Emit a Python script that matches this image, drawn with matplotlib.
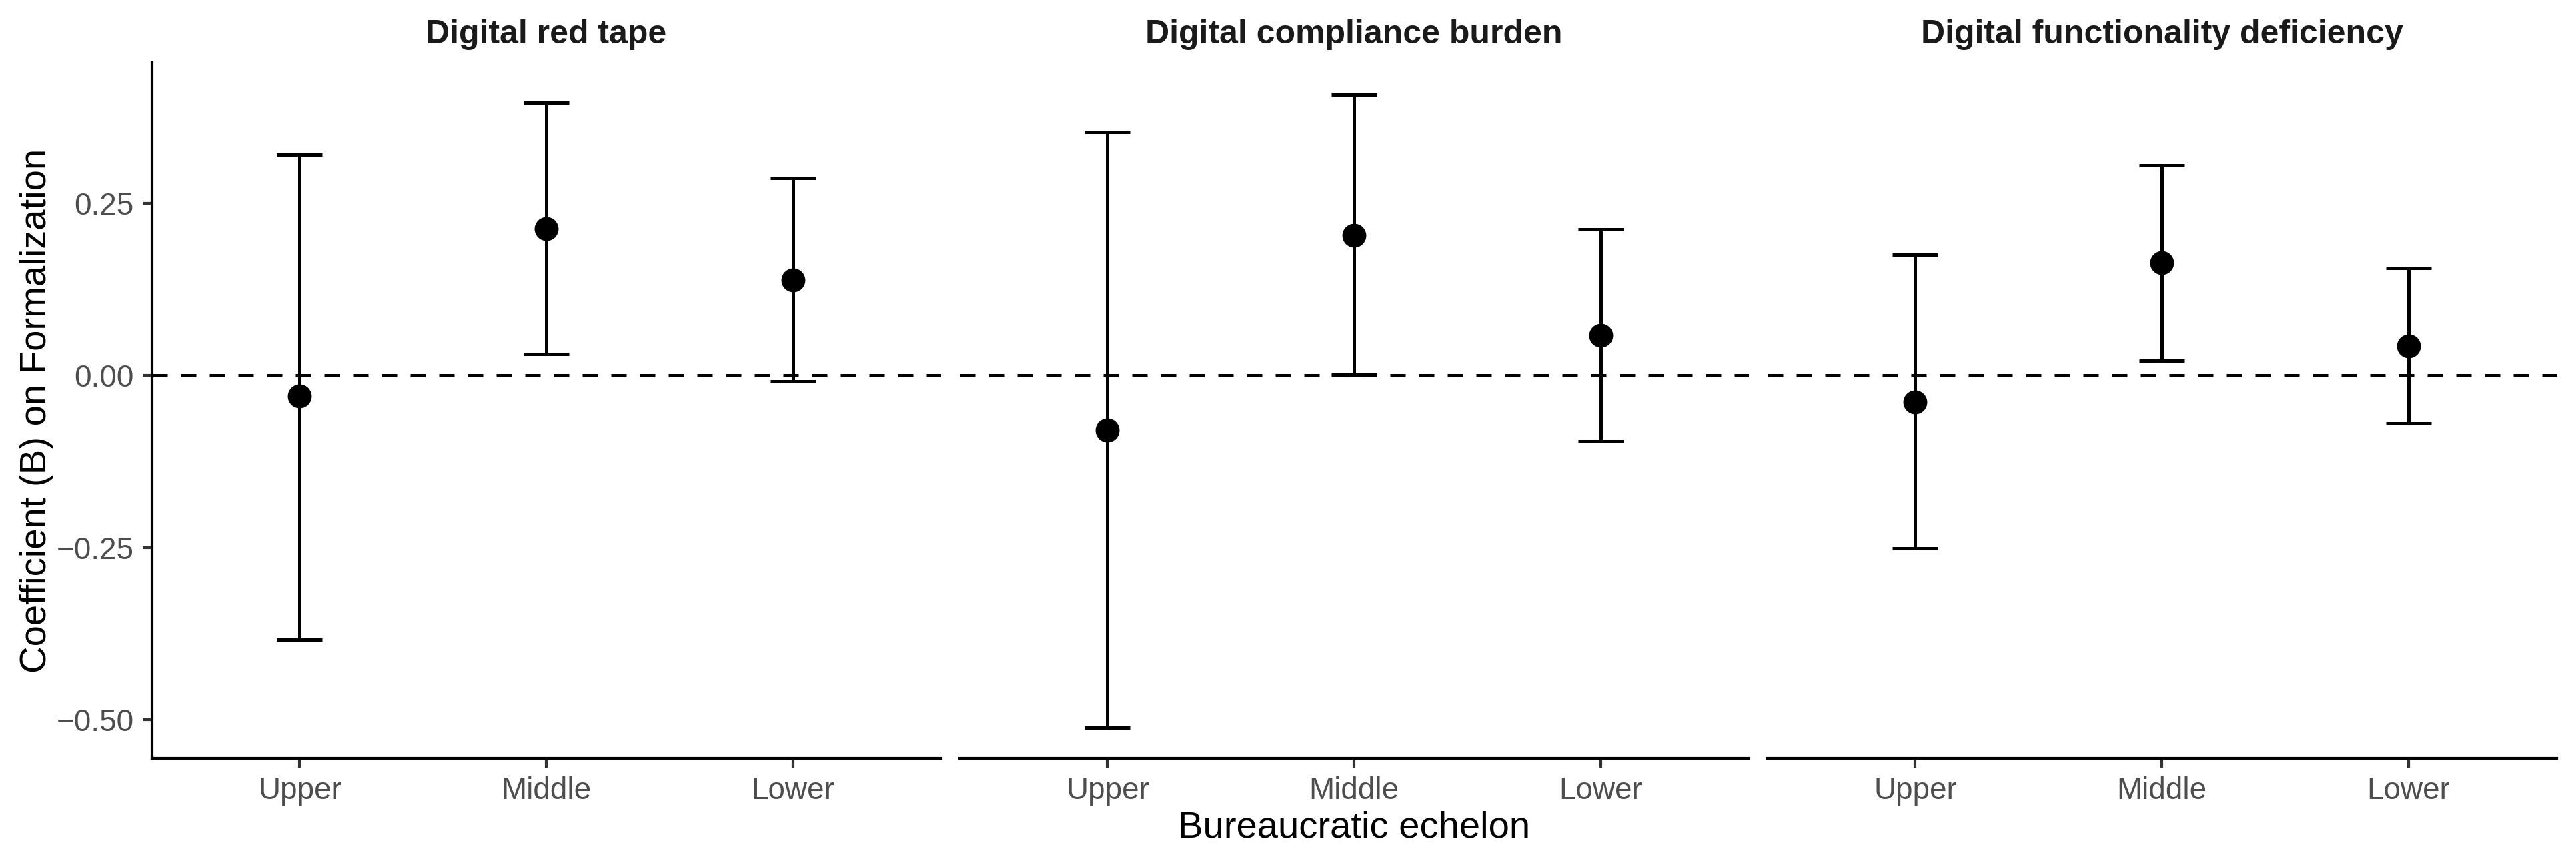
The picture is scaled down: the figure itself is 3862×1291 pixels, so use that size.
import numpy as np
import matplotlib
matplotlib.use("Agg")
import matplotlib.pyplot as plt

plt.rcParams['font.family'] = ['Liberation Sans', 'DejaVu Sans']

# data
panels = ["Digital red tape", "Digital compliance burden", "Digital functionality deficiency"]
echelons = ["Upper", "Middle", "Lower"]

est_red_tape = [-0.030, 0.214, 0.139]
lo_red_tape = [-0.383, 0.031, -0.008]
hi_red_tape = [0.321, 0.397, 0.287]

est_compliance = [-0.079, 0.204, 0.059]
lo_compliance = [-0.511, 0.001, -0.095]
hi_compliance = [0.354, 0.408, 0.213]

est_function = [-0.038, 0.164, 0.043]
lo_function = [-0.251, 0.022, -0.069]
hi_function = [0.176, 0.306, 0.156]

estimates = [est_red_tape, est_compliance, est_function]
lowers = [lo_red_tape, lo_compliance, lo_function]
uppers = [hi_red_tape, hi_compliance, hi_function]

W, H = 3862, 1291
DPI = 300
fig = plt.figure(figsize=(W / DPI, H / DPI), dpi=DPI)

pan_w = 1183
gap = 28
left0 = 227.6
bottom = 154
height = 1043

x = np.arange(1, len(echelons) + 1)
axes = []
for i, name in enumerate(panels):
    left = left0 + i * (pan_w + gap)
    ax = fig.add_axes([left / W, bottom / H, pan_w / W, height / H])
    axes.append(ax)
    est = np.array(estimates[i])
    lo = np.array(lowers[i])
    hi = np.array(uppers[i])

    ax.axhline(0, color="black", lw=1.2, dashes=(4.6, 4.0), zorder=1)
    ax.errorbar(x, est, yerr=[est - lo, hi - est], fmt="o", color="black",
                ms=7.6, elinewidth=1.2, capsize=8.1, capthick=1.2, zorder=3)

    ax.set_xlim(0.4, 3.6)
    ax.set_ylim(-0.556, 0.455)
    ax.set_xticks(x)
    ax.set_xticklabels(echelons, fontsize=11, color="#4D4D4D")
    ax.set_yticks([-0.5, -0.25, 0, 0.25])
    ax.set_yticklabels(["\u22120.50", "\u22120.25", "0.00", "0.25"], fontsize=11, color="#4D4D4D")
    ax.tick_params(length=3.4, width=1.0, color="#333333", pad=3)

    for s in ["top", "right"]:
        ax.spines[s].set_visible(False)
    ax.spines["bottom"].set_linewidth(1.0)
    ax.spines["left"].set_linewidth(1.0)
    if i > 0:
        ax.spines["left"].set_visible(False)
        ax.tick_params(axis="y", left=False, labelleft=False)

    ax.set_title(name, fontsize=12, fontweight="bold", color="#1A1A1A", pad=7)

axes[0].set_ylabel("Coefficient (B) on Formalization", fontsize=13.5, labelpad=1)
axes[1].set_xlabel("Bureaucratic echelon", fontsize=13.5, labelpad=2)

fig.savefig("out.png", dpi=DPI, facecolor="white")
